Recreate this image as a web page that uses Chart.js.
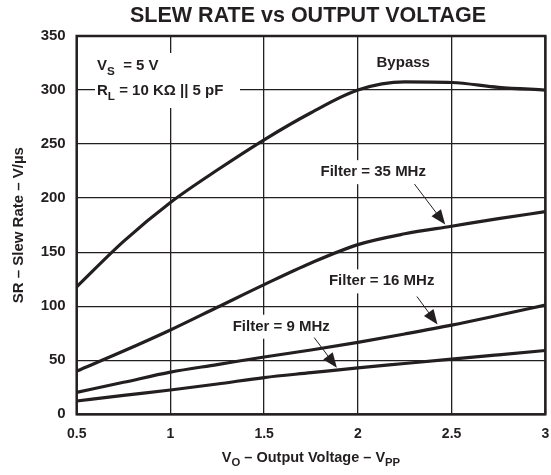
<!DOCTYPE html>
<html>
<head>
<meta charset="utf-8">
<script src="https://cdn.jsdelivr.net/npm/chart.js@4.4.1/dist/chart.umd.min.js"></script>
<style>
  html, body { margin: 0; padding: 0; background: #fff; }
  #wrap { width: 551px; height: 475px; position: relative; }
</style>
</head>
<body>
<div id="wrap"><canvas id="srChart"></canvas></div>
<script>
// Slew rate vs output voltage, one curve per filter setting plus bypass.
const voltages = [0.5, 0.75, 1, 1.25, 1.5, 1.75, 2, 2.25, 2.5, 2.75, 3];
const bypass   = [118, 160, 196, 226, 254, 279, 300, 307.5, 307, 302.5, 300];
const filter35 = [40, 58.5, 78, 99, 120, 140, 157, 167, 174, 181, 187.5];
const filter16 = [20.3, 29.6, 39, 46, 53, 59.5, 66.5, 74.3, 82.5, 91.6, 101];
const filter9  = [12.3, 17.5, 22.5, 28, 34, 38.5, 43, 47, 51, 55, 59];

const xTickLabels = ['0.5', '1', '1.5', '2', '2.5', '3'];
const yTickLabels = ['0', '50', '100', '150', '200', '250', '300', '350'];

const FONT = '"Liberation Sans", Arial, Helvetica, sans-serif';
const INK = '#231f20';

function series(ys) {
    return ys.map((v, i) => ({ x: voltages[i], y: v }));
}

const datasets = [bypass, filter35, filter16, filter9].map(ys => ({
    data: series(ys),
    showLine: true,
    borderColor: INK,
    borderWidth: 3.2,
    pointRadius: 0,
    cubicInterpolationMode: 'monotone',
    fill: false
}));

// Text with optional subscripts: parts = [[text, isSub], ...]
function richWidth(ctx, parts, size) {
    let w = 0;
    for (const [t, sub] of parts) {
        ctx.font = 'bold ' + (sub ? size * 0.78 : size) + 'px ' + FONT;
        w += ctx.measureText(t).width;
    }
    return w;
}
function drawRich(ctx, parts, x, y, size, align) {
    const w = richWidth(ctx, parts, size);
    let cx = align === 'center' ? x - w / 2 : x;
    ctx.textAlign = 'left';
    ctx.textBaseline = 'alphabetic';
    for (const [t, sub] of parts) {
        ctx.font = 'bold ' + (sub ? size * 0.78 : size) + 'px ' + FONT;
        ctx.fillText(t, cx, sub ? y + size * 0.3 : y);
        cx += ctx.measureText(t).width;
    }
}

// Curve labels and their pointer arrows, in data units
const notes = [
    { text: 'Filter = 35 MHz', x: 2.082, y: 224, from: [2.302, 213], to: [2.466, 175.5] },
    { text: 'Filter = 16 MHz', x: 2.127, y: 123, from: [2.315, 109], to: [2.425, 83] },
    { text: 'Filter = 9 MHz',  x: 1.591, y: 81,  from: [1.767, 71],  to: [1.888, 43] },
    { text: 'Bypass',          x: 2.242, y: 325 }
];

const decorPlugin = {
    id: 'decor',
    beforeDatasetsDraw(chart) {
        const { ctx, scales: { x, y } } = chart;
        ctx.save();
        ctx.fillStyle = '#fff';
        // white boxes behind labels break the grid lines
        ctx.font = 'bold 15px ' + FONT;
        for (const n of notes) {
            const w = ctx.measureText(n.text).width;
            const px = x.getPixelForValue(n.x), py = y.getPixelForValue(n.y);
            ctx.fillRect(px - w / 2 - 4, py - 12, w + 8, 24);
        }
        ctx.fillRect(95, 53, 145, 55);
        ctx.restore();
    },
    afterDatasetsDraw(chart) {
        const { ctx, chartArea: a, scales: { x, y } } = chart;
        ctx.save();
        ctx.fillStyle = INK;
        ctx.strokeStyle = INK;
        ctx.font = 'bold 15px ' + FONT;
        ctx.textAlign = 'center';
        ctx.textBaseline = 'middle';
        for (const n of notes) {
            ctx.fillText(n.text, x.getPixelForValue(n.x), y.getPixelForValue(n.y));
            if (!n.from) continue;
            const x1 = x.getPixelForValue(n.from[0]), y1 = y.getPixelForValue(n.from[1]);
            const x2 = x.getPixelForValue(n.to[0]), y2 = y.getPixelForValue(n.to[1]);
            const ang = Math.atan2(y2 - y1, x2 - x1);
            const ah = 16;
            ctx.lineWidth = 1;
            ctx.beginPath();
            ctx.moveTo(x1, y1);
            ctx.lineTo(x2 - ah * 0.8 * Math.cos(ang), y2 - ah * 0.8 * Math.sin(ang));
            ctx.stroke();
            ctx.beginPath();
            ctx.moveTo(x2, y2);
            ctx.lineTo(x2 - ah * Math.cos(ang - 0.38), y2 - ah * Math.sin(ang - 0.38));
            ctx.lineTo(x2 - ah * Math.cos(ang + 0.38), y2 - ah * Math.sin(ang + 0.38));
            ctx.closePath();
            ctx.fill();
        }

        // test conditions
        drawRich(ctx, [['V', false], ['S', true], ['  = 5 V', false]], 97, 70, 15, 'left');
        drawRich(ctx, [['R', false], ['L', true], [' = 10 K\u03A9 || 5 pF', false]], 97, 95, 15, 'left');

        // plot frame
        ctx.lineWidth = 2.5;
        ctx.strokeRect(a.left, a.top, a.right - a.left, a.bottom - a.top);
        ctx.restore();
    },
    afterDraw(chart) {
        const { ctx, chartArea: a } = chart;
        const mid = (a.left + a.right) / 2;
        ctx.save();
        ctx.fillStyle = INK;
        ctx.font = 'bold 21.5px ' + FONT;
        ctx.textAlign = 'center';
        ctx.textBaseline = 'middle';
        ctx.fillText('SLEW RATE vs OUTPUT VOLTAGE', mid - 3, 16);

        drawRich(ctx, [['V', false], ['O', true], [' \u2013 Output Voltage \u2013 V', false], ['PP', true]],
            mid, 462, 14.5, 'center');

        ctx.translate(23, (a.top + a.bottom) / 2);
        ctx.rotate(-Math.PI / 2);
        drawRich(ctx, [['SR \u2013 Slew Rate \u2013 V/\u00B5s', false]], 0, 0, 15, 'center');
        ctx.restore();
    }
};

new Chart(document.getElementById('srChart'), {
    type: 'scatter',
    data: { datasets },
    options: {
        responsive: true,
        maintainAspectRatio: false,
        animation: false,
        layout: { padding: { top: 36, right: 5.7, left: 0, bottom: 0 } },
        plugins: {
            legend: { display: false },
            tooltip: { enabled: false },
            title: { display: false }
        },
        scales: {
            x: {
                type: 'linear',
                min: 0.5, max: 3,
                afterFit(s) { s.height = 60.7; s.paddingLeft = 0; s.paddingRight = 0; },
                afterBuildTicks(s) { s.ticks = xTickLabels.map(v => ({ value: parseFloat(v) })); },
                ticks: {
                    padding: 11,
                    color: INK,
                    font: { family: FONT, size: 14, weight: 'bold' },
                    callback: (v) => xTickLabels.find(t => parseFloat(t) === v)
                },
                grid: { color: INK, lineWidth: 1.3, drawTicks: false },
                border: { display: false }
            },
            y: {
                type: 'linear',
                min: 0, max: 350,
                afterFit(s) { s.width = 76.7; s.paddingTop = 0; s.paddingBottom = 0; },
                afterBuildTicks(s) { s.ticks = yTickLabels.map(v => ({ value: parseFloat(v) })); },
                ticks: {
                    padding: 11,
                    color: INK,
                    font: { family: FONT, size: 15, weight: 'bold' },
                    callback: (v) => yTickLabels.find(t => parseFloat(t) === v)
                },
                grid: { color: INK, lineWidth: 1.3, drawTicks: false },
                border: { display: false }
            }
        }
    },
    plugins: [decorPlugin]
});
</script>
</body>
</html>
